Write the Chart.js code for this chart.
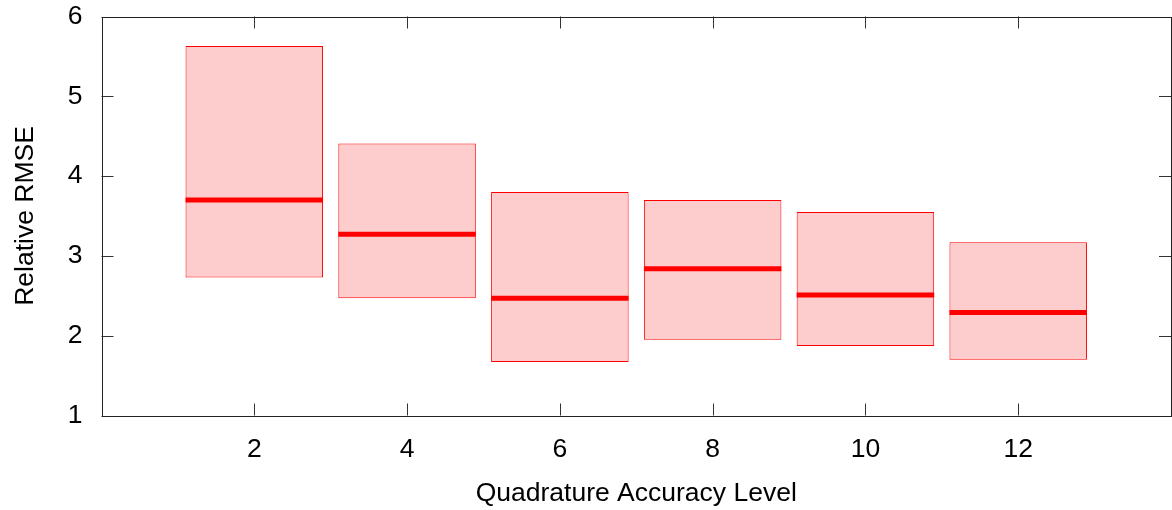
<!DOCTYPE html>
<html>
<head>
<meta charset="utf-8">
<script src="https://cdn.jsdelivr.net/npm/chart.js@4"></script>
<style>
html,body{margin:0;padding:0;background:#fff;}
#wrap{width:1172px;height:510px;position:relative;}
</style>
</head>
<body>
<div id="wrap"><canvas id="c" width="1172" height="510"></canvas></div>
<script>
const levels = [2, 4, 6, 8, 10, 12];
const lower  = [2.73, 2.47, 1.67, 1.95, 1.87, 1.70];
const upper  = [5.63, 4.41, 3.80, 3.70, 3.55, 3.17];
const median = [3.70, 3.27, 2.47, 2.84, 2.51, 2.29];
const xTickValues = [2, 4, 6, 8, 10, 12];
const yTickValues = [1, 2, 3, 4, 5, 6];

const HALF = 0.9;
const boxData = levels.map((x, i) => ({x: x, y: [lower[i], upper[i]]}));
const medData = [];
levels.forEach((x, i) => {
  medData.push({x: x - HALF, y: median[i]});
  medData.push({x: x + HALF, y: median[i]});
  medData.push({x: x + HALF + 0.01, y: null});
});

const FONT = "'Liberation Sans', Arial, sans-serif";

const framePlugin = {
  id: 'frame',
  afterDatasetsDraw(chart) {
    const {ctx, chartArea: a, scales} = chart;
    ctx.save();
    ctx.strokeStyle = '#333';
    ctx.lineWidth = 1;
    const L = 12;
    ctx.beginPath();
    xTickValues.forEach(v => {
      const px = Math.round(scales.x.getPixelForValue(v)) + 0.5;
      ctx.moveTo(px, a.bottom); ctx.lineTo(px, a.bottom - L);
      ctx.moveTo(px, a.top); ctx.lineTo(px, a.top + L);
    });
    yTickValues.forEach(v => {
      const py = Math.round(scales.y.getPixelForValue(v)) + 0.5;
      ctx.moveTo(a.left, py); ctx.lineTo(a.left + L, py);
      ctx.moveTo(a.right, py); ctx.lineTo(a.right - L, py);
    });
    ctx.stroke();
    ctx.strokeStyle = '#222';
    ctx.strokeRect(Math.round(a.left) + 0.5, Math.round(a.top) + 0.5,
                   Math.round(a.right - a.left) - 1, Math.round(a.bottom - a.top));
    ctx.restore();
  }
};

new Chart(document.getElementById('c'), {
  data: {
    datasets: [
      {
        type: 'bar',
        data: boxData,
        backgroundColor: 'rgb(253,204,204)',
        borderColor: 'rgb(255,0,0)',
        borderWidth: 1,
        borderSkipped: false,
        barPercentage: 0.9,
        categoryPercentage: 1.0,
        order: 2
      },
      {
        type: 'line',
        data: medData,
        borderColor: 'rgb(255,0,0)',
        borderWidth: 5,
        pointRadius: 0,
        spanGaps: false,
        fill: false,
        order: 1
      }
    ]
  },
  options: {
    responsive: false,
    animation: false,
    events: [],
    layout: {padding: {top: 0, right: 1, left: 0, bottom: 0}},
    plugins: {legend: {display: false}, tooltip: {enabled: false}},
    scales: {
      x: {
        type: 'linear',
        min: 0, max: 14,
        offset: false,
        afterFit: s => { s.height = 94.5; s.paddingLeft = 0; s.paddingRight = 0; },
        afterBuildTicks: s => { s.ticks = xTickValues.map(v => ({value: v})); },
        ticks: {
          font: {family: FONT, size: 26.5},
          color: '#000',
          padding: 18,
          maxRotation: 0,
          callback: v => String(v)
        },
        grid: {display: true, drawOnChartArea: false, drawTicks: false, offset: false},
        border: {display: false},
        title: {
          display: true,
          text: 'Quadrature Accuracy Level',
          font: {family: FONT, size: 26.5},
          color: '#000',
          padding: {top: 0, bottom: 0}
        }
      },
      y: {
        type: 'linear',
        min: 1, max: 6,
        afterFit: s => { s.width = 101.5; s.paddingTop = 16.5; s.paddingBottom = 0; },
        afterBuildTicks: s => { s.ticks = yTickValues.map(v => ({value: v})); },
        ticks: {
          font: {family: FONT, size: 26.5},
          color: '#000',
          padding: 19,
          callback: v => String(v)
        },
        grid: {display: true, drawOnChartArea: false, drawTicks: false},
        border: {display: false},
        title: {
          display: true,
          text: 'Relative RMSE',
          font: {family: FONT, size: 26.5},
          color: '#000',
          padding: {top: 10, bottom: 0}
        }
      }
    }
  },
  plugins: [framePlugin]
});
</script>
</body>
</html>
